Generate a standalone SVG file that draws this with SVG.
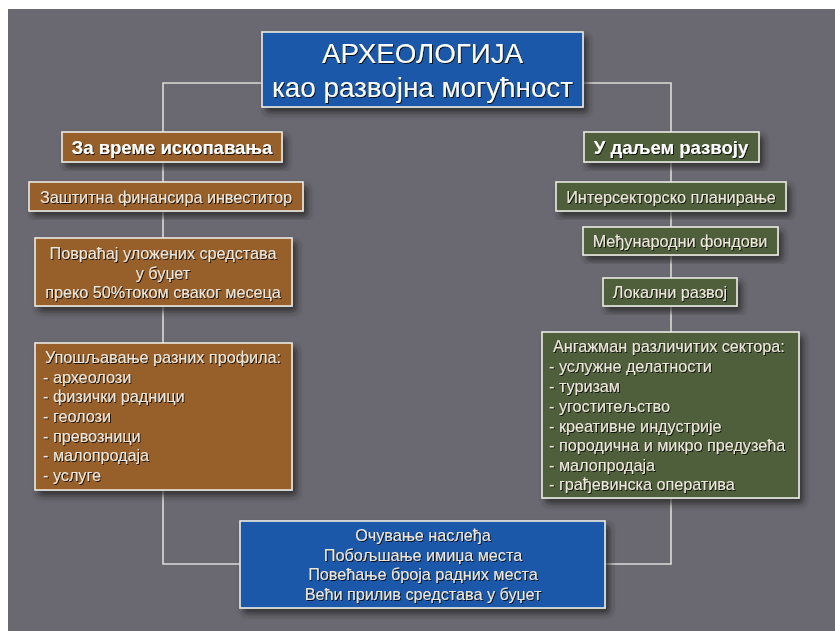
<svg xmlns="http://www.w3.org/2000/svg" width="835" height="631" viewBox="0 0 835 631">
<defs>
<filter id="bs" x="-10%" y="-10%" width="130%" height="140%">
<feDropShadow dx="4" dy="5" stdDeviation="3" flood-color="#202020" flood-opacity="0.75"/>
</filter>
<filter id="ts" x="-5%" y="-20%" width="110%" height="150%">
<feDropShadow dx="1" dy="1" stdDeviation="0.6" flood-color="#000" flood-opacity="0.8"/>
</filter>
</defs>
<style>
.bg{fill:#6a6870}
.box{stroke:#ecebe4;stroke-width:1.6;filter:url(#bs)}
.brown{fill:#97602c}
.green{fill:#4f5e3b}
.blue{fill:#1f59aa}
.con{fill:none;stroke:#dcdcd8;stroke-width:1.6}
text{font-family:"Liberation Sans",Arial,sans-serif;fill:#eee8dc;filter:url(#ts)}
.t{font-size:16.2px}
.h{font-size:18.5px;font-weight:bold;fill:#ffffff}
.title{font-size:28px;fill:#ffffff}
.c{text-anchor:middle}
</style>
<rect x="0" y="0" width="835" height="631" fill="#ffffff"/>
<rect class="bg" x="8" y="9" width="827" height="622"/>
<g id="connectors">
<polyline class="con" points="262,83 163,83 163,132"/>
<polyline class="con" points="583,83 671,83 671,132"/>
<line class="con" x1="163" y1="162" x2="163" y2="182"/>
<line class="con" x1="163" y1="211" x2="163" y2="238"/>
<line class="con" x1="163" y1="306" x2="163" y2="343"/>
<polyline class="con" points="163,490 163,564 240,564"/>
<line class="con" x1="671" y1="162" x2="671" y2="182"/>
<line class="con" x1="671" y1="211" x2="671" y2="227"/>
<line class="con" x1="671" y1="255" x2="671" y2="278"/>
<line class="con" x1="671" y1="306" x2="671" y2="332"/>
<polyline class="con" points="671,498 671,564 605,564"/>
</g>
<g id="title">
<rect class="box blue" x="262" y="32" width="321" height="75"/>
<text class="title c" x="422.5" y="63" textLength="201" lengthAdjust="spacingAndGlyphs">АРХЕОЛОГИЈА</text>
<text class="title c" x="422.5" y="97" textLength="301" lengthAdjust="spacingAndGlyphs">као развојна могућност</text>
</g>
<g id="left-header">
<rect class="box brown" x="62" y="132" width="220" height="30"/>
<text class="h c" x="172" y="153.5">За време ископавања</text>
</g>
<g id="left-1">
<rect class="box brown" x="29" y="182" width="274" height="29"/>
<text class="t c" x="166" y="202.5">Заштитна финансира инвеститор</text>
</g>
<g id="left-2">
<rect class="box brown" x="35" y="238" width="257" height="68"/>
<text class="t c" x="163" y="259">Повраћај уложених средстава</text>
<text class="t c" x="163" y="279">у буџет</text>
<text class="t c" x="163" y="298">преко 50%током сваког месеца</text>
</g>
<g id="left-3">
<rect class="box brown" x="35" y="343" width="257" height="147"/>
<text class="t" x="45" y="363">Упошљавање  разних профила:</text>
<text class="t" x="43" y="383">- археолози</text>
<text class="t" x="43" y="402">- физички радници</text>
<text class="t" x="43" y="422">- геолози</text>
<text class="t" x="43" y="442">- превозници</text>
<text class="t" x="43" y="461">- малопродаја</text>
<text class="t" x="43" y="481">- услуге</text>
</g>
<g id="right-header">
<rect class="box green" x="584" y="132" width="175" height="30"/>
<text class="h c" x="671" y="153.5">У даљем развоју</text>
</g>
<g id="right-1">
<rect class="box green" x="556" y="182" width="230" height="29"/>
<text class="t c" x="671" y="202.5">Интерсекторско планирање</text>
</g>
<g id="right-2">
<rect class="box green" x="583" y="227" width="195" height="28"/>
<text class="t c" x="680" y="246.5">Међународни фондови</text>
</g>
<g id="right-3">
<rect class="box green" x="603" y="278" width="134" height="28"/>
<text class="t c" x="670" y="297.5">Локални развој</text>
</g>
<g id="right-4">
<rect class="box green" x="542" y="332" width="257" height="166"/>
<text class="t" x="553" y="352">Ангажман  различитих сектора:</text>
<text class="t" x="549" y="372">- услужне  делатности</text>
<text class="t" x="549" y="392">- туризам</text>
<text class="t" x="549" y="412">- угоститељство</text>
<text class="t" x="549" y="432">- креативне  индустрије</text>
<text class="t" x="549" y="451">- породична и микро предузећа</text>
<text class="t" x="549" y="471">- малопродаја</text>
<text class="t" x="549" y="490">- грађевинска  оператива</text>
</g>
<g id="outcome">
<rect class="box blue" x="240" y="521" width="365" height="87"/>
<text class="t c" x="423" y="541">Очување наслеђа</text>
<text class="t c" x="423" y="561">Побољшање  имиџа места</text>
<text class="t c" x="423" y="580">Повећање броја радних места</text>
<text class="t c" x="423" y="600">Већи прилив средстава у буџет</text>
</g>
</svg>
